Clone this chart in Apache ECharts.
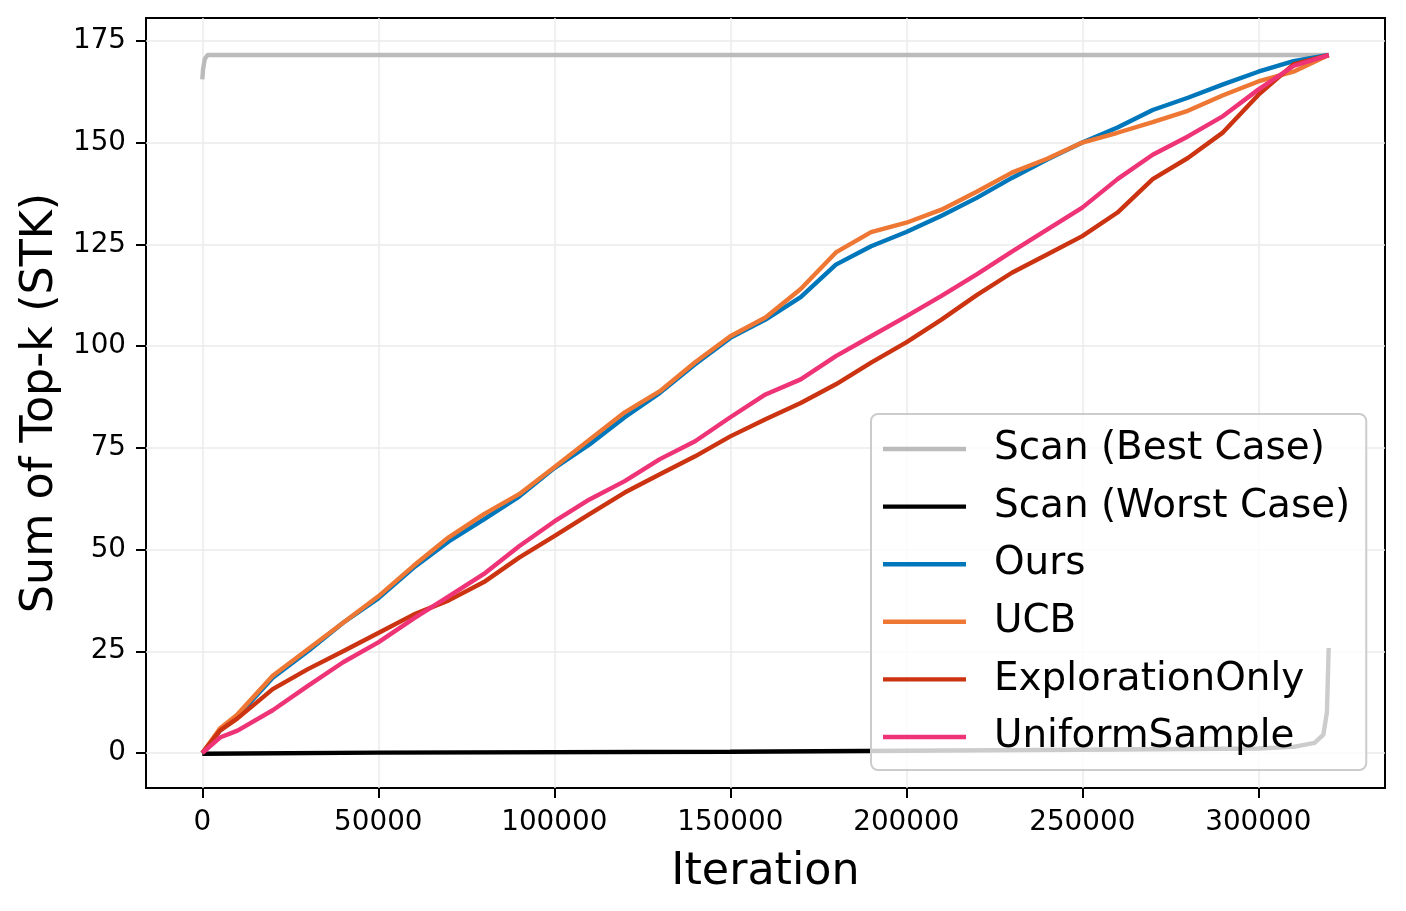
<!DOCTYPE html>
<html>
<head>
<meta charset="utf-8">
<script src="https://cdn.jsdelivr.net/npm/echarts@6/dist/echarts.min.js"></script>
<style>
  html, body { margin: 0; padding: 0; background: #fff; }
  #myChart { width: 1406px; height: 911px; }
</style>
</head>
<body>
<div id="myChart"></div>
<script>
// iterations shared by the four sampling methods
const iters = [0, 5000, 10000, 20000, 30000, 40000, 50000, 60000, 70000, 80000, 90000,
  100000, 110000, 120000, 130000, 140000, 150000, 160000, 170000, 180000, 190000,
  200000, 210000, 220000, 230000, 240000, 250000, 260000, 270000, 280000, 290000,
  300000, 310000, 320000];
const ours = [0, 5.5, 9, 18.5, 25, 32, 38, 45.5, 52, 57.4, 63,
  70, 75.8, 82.5, 88.5, 95.5, 102, 106.5, 112, 120, 124.5,
  128, 132, 136.4, 141.3, 145.8, 150, 153.7, 158, 161, 164.3,
  167.4, 170, 171.5];
const ucb = [0, 6, 9.5, 19, 25.5, 32, 38.5, 46, 53, 58.7, 63.6,
  70.2, 77, 83.7, 88.9, 96, 102.4, 107, 114, 123, 128,
  130.3, 133.5, 137.9, 142.6, 146, 150, 152.4, 155, 157.8, 161.6,
  165, 167.4, 171.5];
const explorationOnly = [0, 5.5, 8.5, 15.7, 20.6, 25, 29.5, 34, 37.5, 42, 48,
  53.3, 58.7, 64, 68.5, 72.9, 77.8, 82, 86, 90.6, 95.9,
  100.9, 106.5, 112.5, 118, 122.5, 127, 132.8, 141, 146.2, 152.5,
  161.7, 169.2, 171.5];
const uniformSample = [0, 3.8, 5.5, 10.5, 16.5, 22.3, 27.2, 33, 38.5, 44, 50.8,
  56.9, 62.3, 66.8, 72.2, 76.6, 82.5, 88.1, 91.8, 97.5, 102.4,
  107.3, 112.3, 117.6, 123.2, 128.6, 134, 141, 147, 151.5, 156.5,
  163, 168.8, 171.5];

// scan baselines
const bestIters = [0, 200, 700, 1500, 320000];
const bestCase = [165.5, 168, 170.5, 171.5, 171.5];
const worstIters = [0, 50000, 150000, 250000, 300000, 310000, 316000, 318500, 319500, 320000];
const worstCase = [-0.2, 0.1, 0.3, 0.8, 1.1, 1.5, 2.5, 4.5, 10, 25.8];

const xTicks = [0, 50000, 100000, 150000, 200000, 250000, 300000];
const yTicks = [0, 25, 50, 75, 100, 125, 150, 175];

const pairs = (xs, ys) => xs.map((x, i) => [x, ys[i]]);

const font = "'DejaVu Sans', sans-serif";
const myChart = echarts.init(document.getElementById("myChart"));

function line(name, xs, ys, color) {
  return {
    name: name,
    type: "line",
    data: pairs(xs, ys),
    symbol: "none",
    showSymbol: false,
    lineStyle: { color: color, width: 4.4 },
    itemStyle: { color: color },
    animation: false,
  };
}

myChart.setOption({
  animation: false,
  backgroundColor: "#ffffff",
  textStyle: { fontFamily: font },
  grid: {
    left: 146,
    top: 18,
    right: 21,
    bottom: 123,
    show: true,
    borderColor: "#000",
    borderWidth: 2,
    backgroundColor: "transparent",
  },
  legend: {
    left: 871,
    top: 414,
    orient: "vertical",
    icon: "rect",
    padding: [15, 16, 13, 12],
    itemWidth: 83,
    itemHeight: 4.4,
    itemGap: 17.6,
    backgroundColor: "rgba(255,255,255,0.8)",
    borderColor: "#cccccc",
    borderWidth: 2,
    borderRadius: 7,
    textStyle: {
      fontFamily: font,
      fontSize: 38.9,
      lineHeight: 40,
      color: "#000",
      padding: [0, 0, 0, 23],
    },
  },
  xAxis: {
    type: "value",
    min: -16000,
    max: 336000,
    name: "Iteration",
    nameLocation: "middle",
    nameGap: 62,
    nameTextStyle: { fontFamily: font, fontSize: 44.4, color: "#000" },
    axisLine: { show: false, onZero: false },
    axisTick: {
      show: true,
      length: 10,
      customValues: xTicks,
      lineStyle: { color: "#000", width: 2 },
    },
    axisLabel: {
      customValues: xTicks,
      formatter: (v) => String(v),
      fontFamily: font,
      fontSize: 27.8,
      color: "#000",
      margin: 21,
    },
    splitLine: { show: true, lineStyle: { color: "#ebebeb", width: 1.5 } },
  },
  yAxis: {
    type: "value",
    min: -8.6,
    max: 180.6,
    name: "Sum of Top-k (STK)",
    nameLocation: "middle",
    nameGap: 84,
    nameTextStyle: { fontFamily: font, fontSize: 44.4, color: "#000" },
    axisLine: { show: false, onZero: false },
    axisTick: {
      show: true,
      length: 10,
      customValues: yTicks,
      lineStyle: { color: "#000", width: 2 },
    },
    axisLabel: {
      customValues: yTicks,
      fontFamily: font,
      fontSize: 27.8,
      color: "#000",
      margin: 20,
    },
    splitLine: { show: true, lineStyle: { color: "#ebebeb", width: 1.5 } },
  },
  series: [
    line("Scan (Best Case)", bestIters, bestCase, "#bbbbbb"),
    line("Scan (Worst Case)", worstIters, worstCase, "#000000"),
    line("Ours", iters, ours, "#0077bb"),
    line("UCB", iters, ucb, "#ee7733"),
    line("ExplorationOnly", iters, explorationOnly, "#cc3311"),
    line("UniformSample", iters, uniformSample, "#ee3377"),
  ],
});
</script>
</body>
</html>
